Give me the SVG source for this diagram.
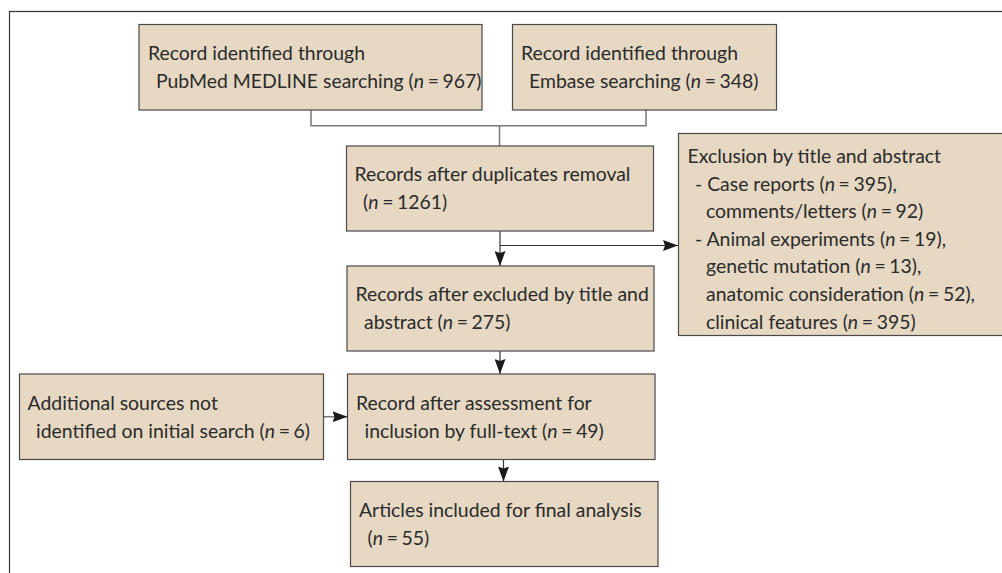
<svg xmlns="http://www.w3.org/2000/svg" width="1002" height="573" viewBox="0 0 1002 573">
<defs>
<style>
.box{fill:#E6D8C3;stroke:#4a4a4a;stroke-width:1.2}
.t{font-family:Lato,"Liberation Sans",sans-serif;font-size:19.4px;fill:#2b2b2b}
.i{font-style:italic}
.e{word-spacing:-1.3px}
.c{fill:none;stroke:#333;stroke-width:1.2}
.g{fill:none;stroke:#777;stroke-width:1.5}
</style>
<marker id="ah" viewBox="0 0 15 11" refX="15" refY="5.5" markerWidth="15" markerHeight="11" markerUnits="userSpaceOnUse" orient="auto">
<path d="M0,0 L15,5.5 L0,11 L2,5.5 Z" fill="#1a1a1a"/>
</marker>
</defs>
<rect x="9.5" y="11.5" width="1010" height="600" fill="#fff" stroke="#333" stroke-width="1.2"/>
<g id="connectors">
<path class="g" d="M311,110 V125.7 H646 V110"/>
<path class="g" d="M499.5,125.7 V146"/>
<path class="c" d="M500,231 V266" marker-end="url(#ah)"/>
<path class="c" d="M500,245.5 H678" marker-end="url(#ah)"/>
<path class="c" d="M500,351 V374" marker-end="url(#ah)"/>
<path class="g" d="M324,416.7 H347.5" marker-end="url(#ah)"/>
<path class="c" d="M503.5,459.5 V481.5" marker-end="url(#ah)"/>
</g>
<g id="n1">
<rect class="box" x="139" y="24.5" width="343" height="85.5"/>
<text class="t" x="148" y="60">Record identified through</text>
<text class="t" x="156" y="88">PubMed MEDLINE searching (<tspan class="i">n</tspan><tspan class="e"> = </tspan>967)</text>
</g>
<g id="n2">
<rect class="box" x="512.5" y="24.5" width="264" height="85.5"/>
<text class="t" x="521" y="60">Record identified through</text>
<text class="t" x="529" y="88">Embase searching (<tspan class="i">n</tspan><tspan class="e"> = </tspan>348)</text>
</g>
<g id="n3">
<rect class="box" x="346.5" y="146" width="307" height="85"/>
<text class="t" x="354.5" y="181">Records after duplicates removal</text>
<text class="t" x="363" y="209">(<tspan class="i">n</tspan><tspan class="e"> = </tspan>1261)</text>
</g>
<g id="n4">
<rect class="box" x="347" y="266" width="307" height="85"/>
<text class="t" x="355.5" y="301">Records after excluded by title and</text>
<text class="t" x="364" y="329">abstract (<tspan class="i">n</tspan><tspan class="e"> = </tspan>275)</text>
</g>
<g id="n5">
<rect class="box" x="678.5" y="133.5" width="340" height="202"/>
<text class="t" x="687.5" y="162.5">Exclusion by title and abstract</text>
<text class="t" x="695" y="190.5">- Case reports (<tspan class="i">n</tspan><tspan class="e"> = </tspan>395),</text>
<text class="t" x="706" y="217.5">comments/letters (<tspan class="i">n</tspan><tspan class="e"> = </tspan>92)</text>
<text class="t" x="695" y="245.5">- Animal experiments (<tspan class="i">n</tspan><tspan class="e"> = </tspan>19),</text>
<text class="t" x="706" y="273">genetic mutation (<tspan class="i">n</tspan><tspan class="e"> = </tspan>13),</text>
<text class="t" x="706" y="301">anatomic consideration (<tspan class="i">n</tspan><tspan class="e"> = </tspan>52),</text>
<text class="t" x="706" y="328.5">clinical features (<tspan class="i">n</tspan><tspan class="e"> = </tspan>395)</text>
</g>
<g id="n6">
<rect class="box" x="19.5" y="374" width="304" height="85.5"/>
<text class="t" x="27.5" y="409.5">Additional sources not</text>
<text class="t" x="36" y="437.5">identified on initial search (<tspan class="i">n</tspan><tspan class="e"> = </tspan>6)</text>
</g>
<g id="n7">
<rect class="box" x="347.5" y="374" width="307.5" height="85.5"/>
<text class="t" x="356" y="409.5">Record after assessment for</text>
<text class="t" x="364.5" y="437.5">inclusion by full-text (<tspan class="i">n</tspan><tspan class="e"> = </tspan>49)</text>
</g>
<g id="n8">
<rect class="box" x="350.5" y="481.5" width="307.5" height="85"/>
<text class="t" x="359" y="517">Articles included for final analysis</text>
<text class="t" x="367.5" y="545">(<tspan class="i">n</tspan><tspan class="e"> = </tspan>55)</text>
</g>
</svg>
